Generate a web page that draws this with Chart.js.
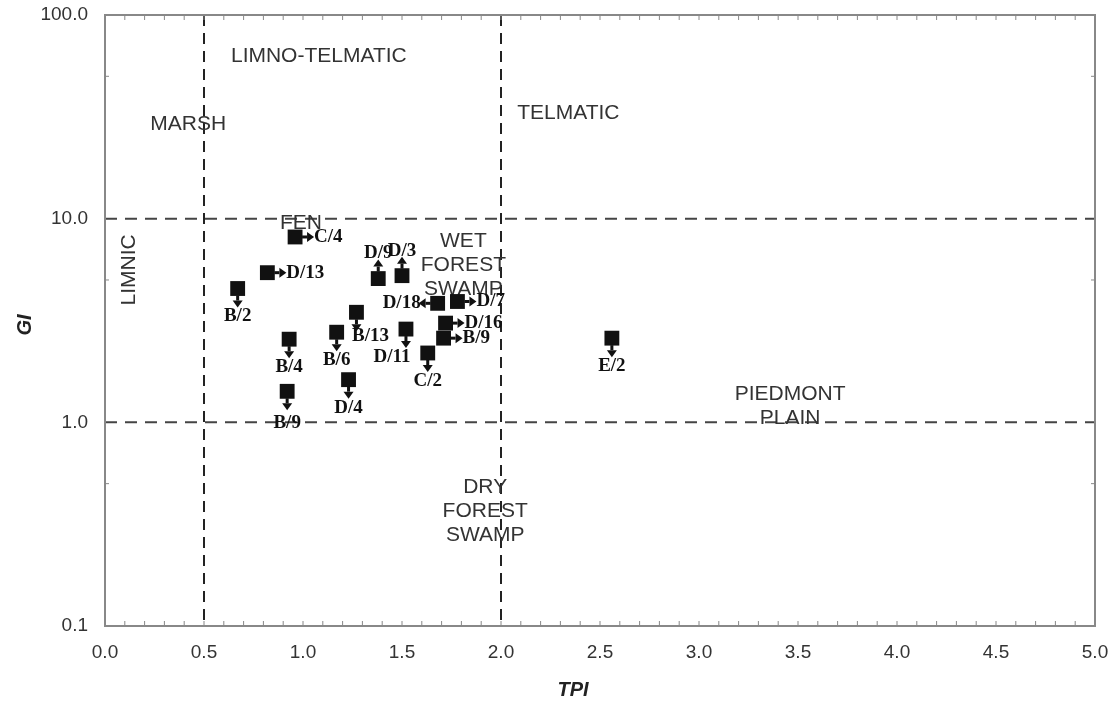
<!DOCTYPE html>
<html lang="en">
<head>
    <meta charset="UTF-8">
    <title>GI vs TPI</title>
    <script src="https://cdn.jsdelivr.net/npm/chart.js"></script>
    <style>
        body { margin: 0; background: #fff; }
        #wrap { width: 1119px; height: 709px; position: relative; }
    </style>
</head>
<body>
    <div id="wrap"><canvas id="giChart"></canvas></div>

    <script>
        // samples
        const sampleLabels = ['C/4', 'D/13', 'B/2', 'B/4', 'B/9', 'B/6', 'B/13', 'D/4', 'D/9', 'D/3', 'D/18', 'D/7', 'D/11', 'C/2', 'D/16', 'B/9', 'E/2'];
        const tpiValues = [0.96, 0.82, 0.67, 0.93, 0.92, 1.17, 1.27, 1.23, 1.38, 1.50, 1.68, 1.78, 1.52, 1.63, 1.72, 1.71, 2.56];
        const giValues = [8.13, 5.43, 4.54, 2.56, 1.42, 2.77, 3.47, 1.62, 5.08, 5.25, 3.84, 3.92, 2.87, 2.19, 3.07, 2.59, 2.59];
        const arrowDirs = ['right', 'right', 'down', 'down', 'down', 'down', 'down', 'down', 'up', 'up', 'left', 'right', 'down', 'down', 'right', 'right', 'down'];

        // boundaries of the fields
        const tpiLimits = [0.5, 2.0];
        const giLimits = [1, 10];
        const yTicks = [0.1, 1, 10, 100];

        // field names: [text lines, tpi, gi]
        const fieldNames = [
            [['LIMNO-TELMATIC'], 1.08, 63],
            [['MARSH'], 0.42, 29],
            [['TELMATIC'], 2.34, 33],
            [['FEN'], 0.99, 9.5],
            [['WET', 'FOREST', 'SWAMP'], 1.81, 5.9],
            [['PIEDMONT', 'PLAIN'], 3.46, 1.2],
            [['DRY', 'FOREST', 'SWAMP'], 1.92, 0.365]
        ];

        // small label nudges (px) where the figure moves a label off its default place
        const labelNudge = { 6: [14, -4], 12: [-14, 0], 4: [0, 4] };

        const sans = '"Liberation Sans", Arial, sans-serif';
        const serif = '"Liberation Serif", "Times New Roman", serif';

        const decorPlugin = {
            id: 'decor',
            beforeDatasetsDraw(chart) {
                const { ctx, chartArea: a, scales: { x, y } } = chart;
                ctx.save();
                // dashed field limits
                ctx.lineWidth = 2;
                ctx.strokeStyle = '#222';
                ctx.setLineDash([11, 7]);
                tpiLimits.forEach(v => {
                    const px = x.getPixelForValue(v);
                    ctx.beginPath(); ctx.moveTo(px, a.top); ctx.lineTo(px, a.bottom); ctx.stroke();
                });
                ctx.strokeStyle = '#444';
                ctx.setLineDash([12, 8]);
                giLimits.forEach(v => {
                    const py = y.getPixelForValue(v);
                    ctx.beginPath(); ctx.moveTo(a.left, py); ctx.lineTo(a.right, py); ctx.stroke();
                });
                ctx.setLineDash([]);

                // frame and inward ticks
                ctx.strokeStyle = '#888';
                ctx.lineWidth = 2;
                ctx.strokeRect(a.left, a.top, a.right - a.left, a.bottom - a.top);
                ctx.lineWidth = 1;
                ctx.beginPath();
                for (let i = 1; i < 50; i++) {
                    const px = x.getPixelForValue(i / 10);
                    ctx.moveTo(px, a.bottom); ctx.lineTo(px, a.bottom - 5);
                    ctx.moveTo(px, a.top); ctx.lineTo(px, a.top + 5);
                }
                [0.5, 5, 50].forEach(v => {
                    const py = y.getPixelForValue(v);
                    ctx.moveTo(a.left, py); ctx.lineTo(a.left + 4, py);
                    ctx.moveTo(a.right, py); ctx.lineTo(a.right - 4, py);
                });
                ctx.stroke();

                // field names
                ctx.fillStyle = '#333';
                ctx.font = '21px ' + sans;
                ctx.textAlign = 'center';
                ctx.textBaseline = 'middle';
                fieldNames.forEach(([lines, tx, gy]) => {
                    const px = x.getPixelForValue(tx);
                    const py = y.getPixelForValue(gy);
                    const start = py - (lines.length - 1) * 12;
                    lines.forEach((t, i) => ctx.fillText(t, px, start + i * 24));
                });
                // LIMNIC, rotated
                ctx.save();
                ctx.translate(x.getPixelForValue(0.12), y.getPixelForValue(5.6));
                ctx.rotate(-Math.PI / 2);
                ctx.fillText('LIMNIC', 0, 0);
                ctx.restore();

                // axis titles
                ctx.fillStyle = '#222';
                ctx.font = 'bold italic 20px ' + sans;
                ctx.fillText('TPI', 573, 690);
                ctx.save();
                ctx.translate(25, 325);
                ctx.rotate(-Math.PI / 2);
                ctx.fillText('GI', 0, 0);
                ctx.restore();
                ctx.restore();
            },
            afterDatasetsDraw(chart) {
                const { ctx } = chart;
                const meta = chart.getDatasetMeta(0);
                ctx.save();
                ctx.fillStyle = '#111';
                ctx.strokeStyle = '#111';
                ctx.lineWidth = 3;
                ctx.font = 'bold 19px ' + serif;
                meta.data.forEach((pt, i) => {
                    const { x: px, y: py } = pt.getProps(['x', 'y'], true);
                    const dir = arrowDirs[i];
                    const v = { right: [1, 0], left: [-1, 0], up: [0, -1], down: [0, 1] }[dir];
                    const s = 7, len = 12, hw = 5, hl = 7;
                    const x0 = px + v[0] * s, y0 = py + v[1] * s;
                    const x1 = px + v[0] * (s + len), y1 = py + v[1] * (s + len);
                    // shaft
                    ctx.beginPath();
                    ctx.moveTo(x0, y0);
                    ctx.lineTo(x1 - v[0] * hl, y1 - v[1] * hl);
                    ctx.stroke();
                    // head
                    ctx.beginPath();
                    ctx.moveTo(x1, y1);
                    ctx.lineTo(x1 - v[0] * hl + v[1] * hw, y1 - v[1] * hl + v[0] * hw);
                    ctx.lineTo(x1 - v[0] * hl - v[1] * hw, y1 - v[1] * hl - v[0] * hw);
                    ctx.closePath();
                    ctx.fill();

                    // sample label
                    const n = labelNudge[i] || [0, 0];
                    let lx = px, ly = py;
                    ctx.textBaseline = 'middle';
                    if (dir === 'down') { ctx.textAlign = 'center'; ly = py + 28; }
                    else if (dir === 'up') { ctx.textAlign = 'center'; ly = py - 25; }
                    else if (dir === 'right') { ctx.textAlign = 'left'; lx = px + 19; }
                    else { ctx.textAlign = 'right'; lx = px - 17; }
                    ctx.fillText(sampleLabels[i], lx + n[0], ly + n[1]);
                });
                ctx.restore();
            }
        };

        const giChart = new Chart(
            document.getElementById('giChart'),
            {
                type: 'scatter',
                data: {
                    datasets: [{
                        label: 'samples',
                        data: tpiValues.map((t, i) => ({ x: t, y: giValues[i] })),
                        pointStyle: 'rect',
                        pointRadius: 10.5,
                        pointHoverRadius: 10.5,
                        backgroundColor: '#111',
                        borderColor: '#111',
                        borderWidth: 0
                    }]
                },
                options: {
                    responsive: true,
                    maintainAspectRatio: false,
                    animation: false,
                    layout: { padding: { left: 0, right: 24, top: 15, bottom: 0 } },
                    plugins: {
                        legend: { display: false },
                        tooltip: { enabled: false }
                    },
                    scales: {
                        x: {
                            type: 'linear',
                            min: 0,
                            max: 5,
                            grid: { display: false, drawTicks: false },
                            border: { display: false },
                            ticks: {
                                stepSize: 0.5,
                                padding: 15,
                                color: '#333',
                                font: { family: sans, size: 19 },
                                maxRotation: 0,
                                callback: v => Number(v).toFixed(1)
                            },
                            afterFit: s => { s.height = 83; s.paddingLeft = 0; s.paddingRight = 0; }
                        },
                        y: {
                            type: 'logarithmic',
                            min: 0.1,
                            max: 100,
                            grid: { display: false, drawTicks: false },
                            border: { display: false },
                            afterBuildTicks: s => { s.ticks = yTicks.map(v => ({ value: v })); },
                            ticks: {
                                padding: 17,
                                color: '#333',
                                font: { family: sans, size: 19 },
                                callback: v => Number(v).toFixed(1)
                            },
                            afterFit: s => { s.width = 105; s.paddingTop = 0; s.paddingBottom = 0; }
                        }
                    }
                },
                plugins: [decorPlugin]
            }
        );
    </script>
</body>
</html>
